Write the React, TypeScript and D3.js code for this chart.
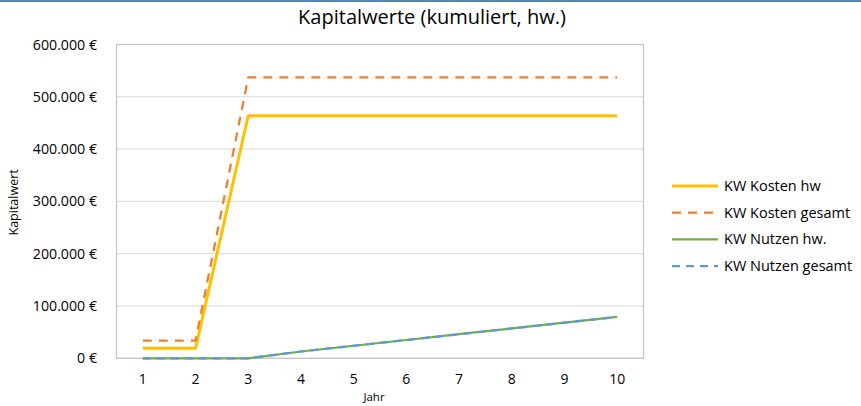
import * as d3 from "d3";

const W = 861;
const H = 406;

// chart data
const years = ["1", "2", "3", "4", "5", "6", "7", "8", "9", "10"];
const kostenHw = [19000, 19000, 464000, 464000, 464000, 464000, 464000, 464000, 464000, 464000];
const kostenGesamt = [34000, 34000, 537000, 537000, 537000, 537000, 537000, 537000, 537000, 537000];
const nutzenHw = [0, 0, 0, 13000, 24000, 35000, 46000, 57000, 68000, 79000];
const nutzenGesamt = [0, 0, 0, 13000, 24000, 35000, 46000, 57000, 68000, 79000];
const yTicks = [0, 100000, 200000, 300000, 400000, 500000, 600000];

const series = [
  { name: "KW Kosten hw", values: kostenHw, color: "#ffc000", width: 3, dash: "" },
  { name: "KW Kosten gesamt", values: kostenGesamt, color: "#ed7d31", width: 2.25, dash: "9,7" },
  { name: "KW Nutzen hw.", values: nutzenHw, color: "#70ad47", width: 2.25, dash: "" },
  { name: "KW Nutzen gesamt", values: nutzenGesamt, color: "#5b9bd5", width: 2.25, dash: "8,6" },
];

const FONT = "'Open Sans', 'Noto Sans', sans-serif";

const fmt = (v: number) => d3.format(",")(v).replace(/,/g, ".") + " €";

export default function App() {
  const m = { left: 116.5, right: 643.5, top: 44.5, bottom: 358.3 };

  const x = d3.scalePoint<string>().domain(years).range([m.left, m.right]).padding(0.5);
  const y = d3.scaleLinear().domain([0, 600000]).range([m.bottom, m.top]);

  const line = d3
    .line<number>()
    .x((_, i) => x(years[i]) as number)
    .y((d) => y(d));

  return (
    <svg
      width={W}
      height={H}
      style={{ position: "absolute", left: 0, top: 0, background: "#fff" }}
    >
      <line x1={0} x2={W} y1={1} y2={1} stroke="#5a86b0" strokeWidth={2} />

      <text x={432} y={24} textAnchor="middle" fontFamily={FONT} fontSize={20} fill="#000">
        Kapitalwerte (kumuliert, hw.)
      </text>

      {/* gridlines */}
      {yTicks.map((t) => (
        <line key={t} x1={m.left} x2={m.right} y1={y(t)} y2={y(t)} stroke="#d9d9d9" strokeWidth={1} />
      ))}
      <rect
        x={m.left}
        y={m.top}
        width={m.right - m.left}
        height={m.bottom - m.top}
        fill="none"
        stroke="#c4c4c4"
        strokeWidth={1.2}
      />

      {/* y tick labels */}
      {yTicks.map((t) => (
        <text key={t} x={97} y={y(t) + 5} textAnchor="end" fontFamily={FONT} fontSize={14.2} fill="#000">
          {fmt(t)}
        </text>
      ))}
      <text
        transform={`translate(18,${(m.top + m.bottom) / 2 + 1}) rotate(-90)`}
        textAnchor="middle"
        fontFamily={FONT}
        fontSize={12.5}
        fill="#000"
      >
        Kapitalwert
      </text>

      {/* x tick labels */}
      {years.map((yr) => (
        <text key={yr} x={x(yr)} y={384} textAnchor="middle" fontFamily={FONT} fontSize={14} fill="#000">
          {yr}
        </text>
      ))}
      <text x={374} y={401} textAnchor="middle" fontFamily={FONT} fontSize={11.5} fill="#000">
        Jahr
      </text>

      {/* lines */}
      {series.map((s) => (
        <path
          key={s.name}
          d={line(s.values) ?? ""}
          fill="none"
          stroke={s.color}
          strokeWidth={s.width}
          strokeDasharray={s.dash}
          strokeLinejoin="round"
        />
      ))}

      {/* legend */}
      {series.map((s, i) => {
        const ly = 186 + i * 26.7;
        return (
          <g key={s.name}>
            <line
              x1={672}
              x2={718}
              y1={ly}
              y2={ly}
              stroke={s.color}
              strokeWidth={s.width}
              strokeDasharray={s.dash}
            />
            <text x={724} y={ly + 5} fontFamily={FONT} fontSize={14.5} fill="#000">
              {s.name}
            </text>
          </g>
        );
      })}
    </svg>
  );
}
